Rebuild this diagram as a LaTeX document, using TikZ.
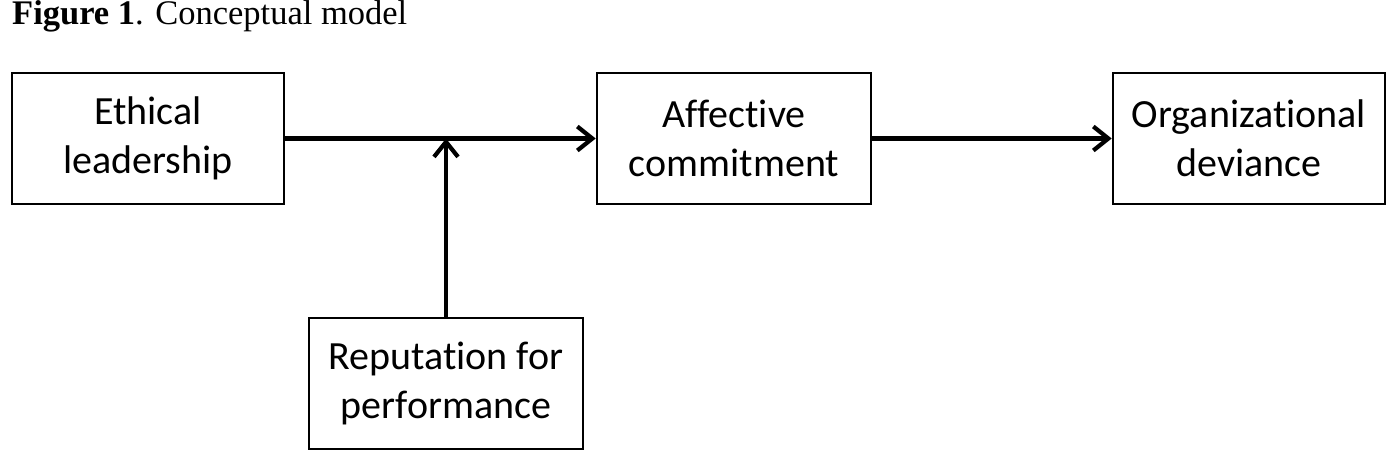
\documentclass[tikz,border=0pt]{standalone}
\usepackage{fontspec}
\setmainfont{Carlito}[Ligatures=NoCommon]
\newfontfamily\titlefont{Liberation Serif}
\usetikzlibrary{arrows.meta}
\begin{document}
\begin{tikzpicture}[x=1pt,y=1pt,
  box/.style={draw=black, line width=2.6pt, fill=white, rectangle,
    minimum width=272pt, minimum height=131pt, inner sep=0pt,
    align=center, font=\fontsize{40}{49}\selectfont},
  flow/.style={line width=4.6pt, -{Straight Barb[length=15pt,width=24pt,line width=4.2pt]}}]
  \clip (0,0) rectangle (1393,-468);
  \fill[white] (0,0) rectangle (1393,-468);

  % caption
  \node[anchor=base west, inner sep=0pt, font=\titlefont\fontsize{34.5}{40}\selectfont]
    (caption) at (12,-25) {\textbf{Figure 1}. Conceptual model};

  % constructs
  \node[box] (eth) at (148,-138.5) {Ethical\\leadership};
  \node[box, minimum width=274pt] (aff) at (734,-138.5) {Affective\\commitment};
  \node[box] (org) at (1249,-138.5) {Organizational\\deviance};
  \node[box, minimum width=274pt] (rep) at (446,-383.5) {Reputation for\\performance};

  % paths
  \coordinate (join) at (446,-138.5);
  \draw[flow] (eth.east) -- (aff.west);
  \draw[flow] (aff.east) -- (org.west);
  \draw[flow] (rep.north) -- (join);
\end{tikzpicture}
\end{document}
